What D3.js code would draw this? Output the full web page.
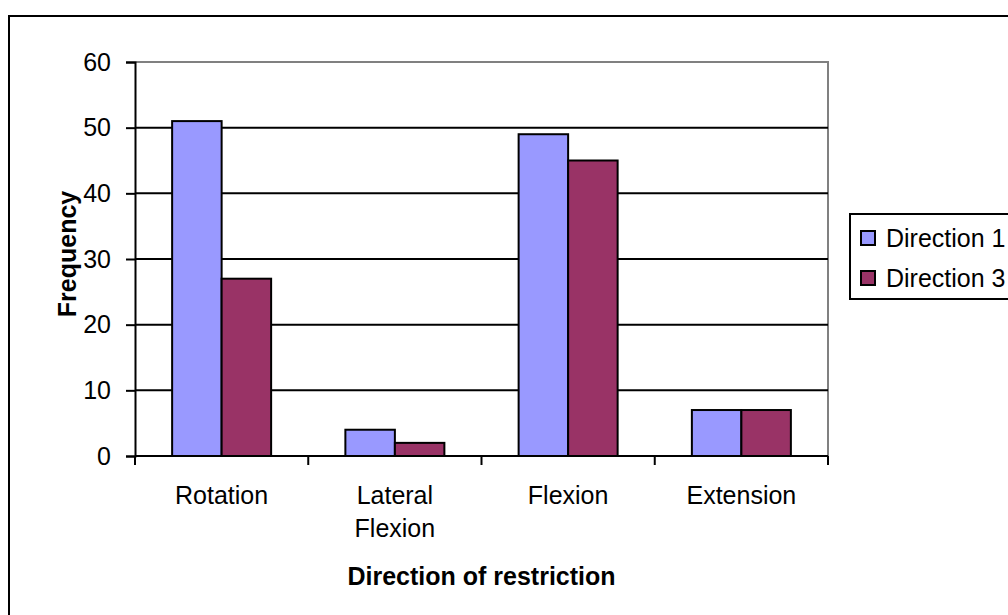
<!DOCTYPE html>
<html>
<head>
<meta charset="utf-8">
<script src="https://cdn.jsdelivr.net/npm/d3@7"></script>
<style>
  html, body { margin: 0; padding: 0; background: #fff; }
  svg { display: block; font-family: "Liberation Sans", Arial, sans-serif; }
</style>
</head>
<body>
<svg id="chart" width="1008" height="615"></svg>
<script>
const categories = [["Rotation"], ["Lateral", "Flexion"], ["Flexion"], ["Extension"]];
const categoryKeys = ["Rotation", "Lateral Flexion", "Flexion", "Extension"];
const seriesNames = ["Direction 1", "Direction 3"];
const direction1 = [51, 4, 49, 7];
const direction3 = [27, 2, 45, 7];
const yTicks = [0, 10, 20, 30, 40, 50, 60];
const colors = ["#9999FF", "#993366"];

const svg = d3.select("#chart");
const plotL = 135, plotR = 828, plotT = 62, plotB = 456;
const FS = 25;

// outer chart border
svg.append("rect").attr("x", 9).attr("y", 16).attr("width", 1010).attr("height", 610)
  .attr("fill", "#fff").attr("stroke", "#000").attr("stroke-width", 2);

const y = d3.scaleLinear().domain([0, 60]).range([plotB, plotT]);
const x0 = d3.scaleBand().domain(categoryKeys).range([plotL, plotR]).padding(0);
const x1 = d3.scaleBand().domain(seriesNames).range([0, x0.bandwidth()]).paddingInner(0).paddingOuter(0.75);

// plot area border (gray)
svg.append("path")
  .attr("d", `M${plotL},${plotT}H${plotR}V${plotB}`)
  .attr("fill", "none").attr("stroke", "#808080").attr("stroke-width", 2);

// gridlines
svg.append("g").selectAll("line").data(yTicks.filter(t => t > 0 && t < 60)).join("line")
  .attr("x1", plotL).attr("x2", plotR)
  .attr("y1", d => y(d)).attr("y2", d => y(d))
  .attr("stroke", "#000").attr("stroke-width", 2);

// bars
const data = categoryKeys.map((c, i) => ({ cat: c, vals: [direction1[i], direction3[i]] }));
const groups = svg.append("g").selectAll("g").data(data).join("g")
  .attr("transform", d => `translate(${x0(d.cat)},0)`);
groups.selectAll("rect").data(d => d.vals.map((v, j) => ({ name: seriesNames[j], v, j }))).join("rect")
  .attr("x", d => x1(d.name))
  .attr("width", x1.bandwidth())
  .attr("y", d => y(d.v))
  .attr("height", d => y(0) - y(d.v))
  .attr("fill", d => colors[d.j])
  .attr("stroke", "#000").attr("stroke-width", 2);

// y axis
const yAxis = svg.append("g").attr("transform", `translate(${plotL},0)`)
  .call(d3.axisLeft(y).tickValues(yTicks).tickSize(9).tickPadding(15).tickFormat(d3.format("d")));
yAxis.select(".domain").attr("stroke", "#000").attr("stroke-width", 2);
yAxis.selectAll(".tick line").attr("stroke", "#000").attr("stroke-width", 2);
yAxis.selectAll(".tick text").attr("font-size", FS).attr("fill", "#000")
  .attr("font-family", "'Liberation Sans', Arial, sans-serif");

// x axis line
svg.append("line").attr("x1", plotL).attr("x2", plotR).attr("y1", plotB).attr("y2", plotB)
  .attr("stroke", "#000").attr("stroke-width", 2);
// x boundary ticks
const bounds = categoryKeys.map(c => x0(c)).concat([x0(categoryKeys[categoryKeys.length - 1]) + x0.bandwidth()]);
svg.append("g").selectAll("line").data(bounds).join("line")
  .attr("x1", d => d).attr("x2", d => d).attr("y1", plotB).attr("y2", plotB + 9)
  .attr("stroke", "#000").attr("stroke-width", 2);

// category labels
const labelG = svg.append("g").selectAll("text").data(categoryKeys).join("text")
  .attr("x", d => x0(d) + x0.bandwidth() / 2)
  .attr("y", 504)
  .attr("text-anchor", "middle")
  .attr("font-size", FS).attr("fill", "#000");
labelG.each(function(d, i) {
  const t = d3.select(this);
  categories[i].forEach((line, k) => {
    t.append("tspan").attr("x", x0(d) + x0.bandwidth() / 2).attr("dy", k === 0 ? 0 : 33).text(line);
  });
});

// axis titles
svg.append("text").attr("x", (plotL + plotR) / 2).attr("y", 585)
  .attr("text-anchor", "middle").attr("font-size", FS).attr("font-weight", "bold")
  .text("Direction of restriction");
svg.append("text").attr("transform", `translate(76,254) rotate(-90)`)
  .attr("text-anchor", "middle").attr("font-size", FS).attr("font-weight", "bold")
  .text("Frequency");

// legend
svg.append("rect").attr("x", 850).attr("y", 214).attr("width", 200).attr("height", 85)
  .attr("fill", "#fff").attr("stroke", "#000").attr("stroke-width", 2);
const leg = svg.append("g").selectAll("g").data(seriesNames).join("g")
  .attr("transform", (d, i) => `translate(861,${231 + i * 40})`);
leg.append("rect").attr("width", 14).attr("height", 14)
  .attr("fill", (d, i) => colors[i]).attr("stroke", "#000").attr("stroke-width", 2);
leg.append("text").attr("x", 25).attr("y", 7).attr("dy", "0.35em")
  .attr("font-size", FS).attr("fill", "#000").text(d => d);
</script>
</body>
</html>
